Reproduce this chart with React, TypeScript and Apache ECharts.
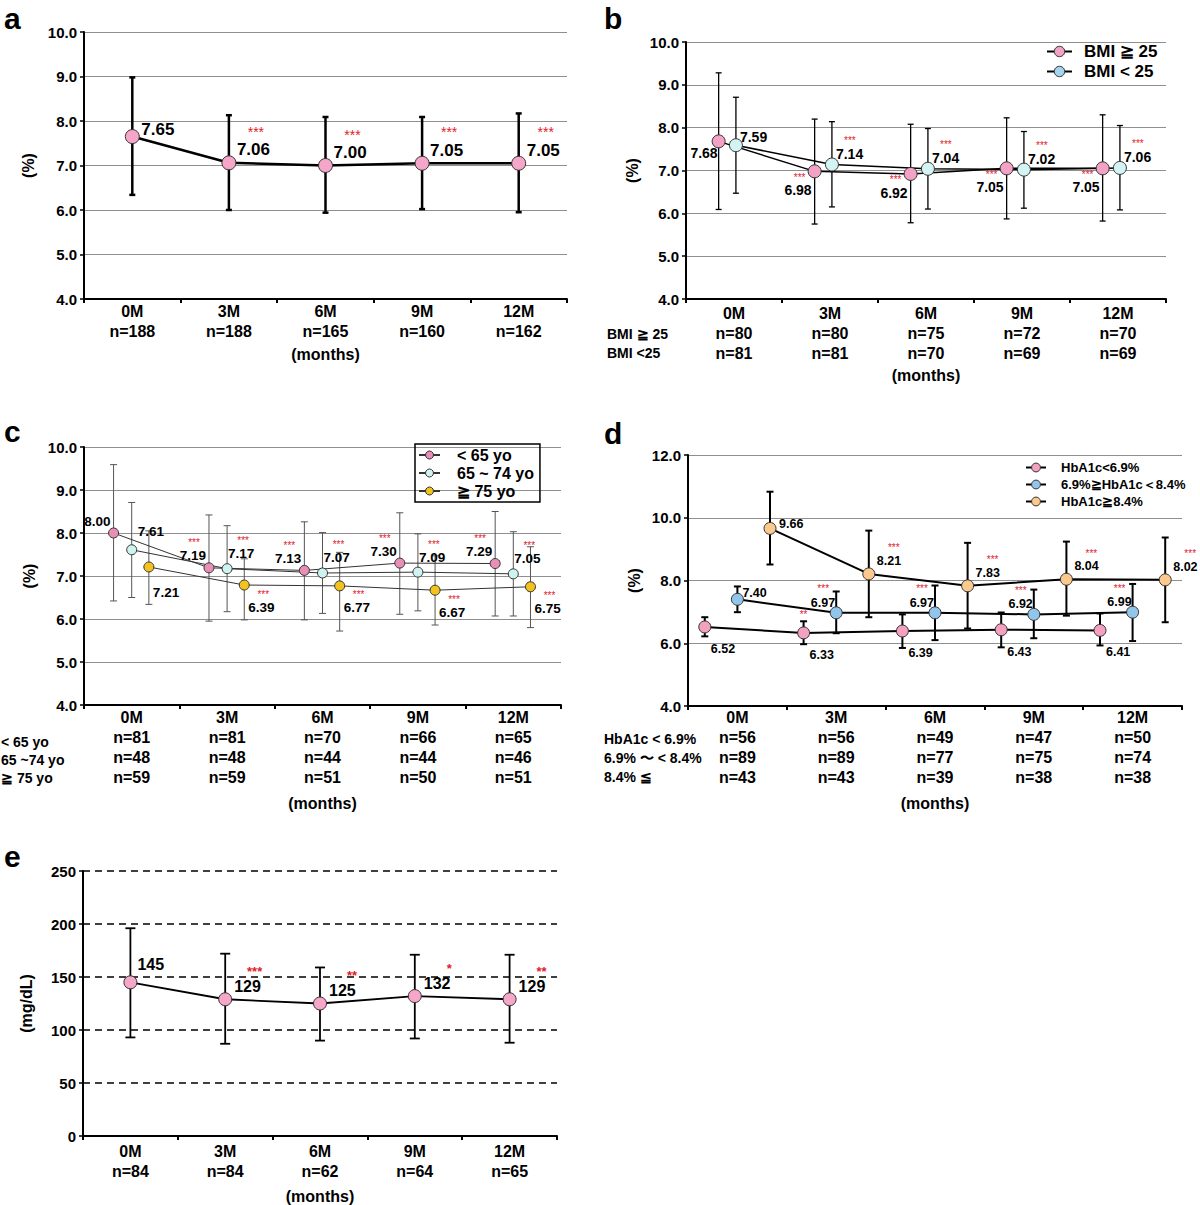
import React, { useEffect, useRef } from 'react';
import * as echarts from 'echarts';

const FONT = '"Liberation Sans", Arial, Helvetica, sans-serif';
const months = ['0M', '3M', '6M', '9M', '12M'];

// ---- panel a : HbA1c all patients ----
const aN = [188, 188, 165, 160, 162];
const aMean = [7.65, 7.06, 7.0, 7.05, 7.05];
const aLow = [6.34, 6.0, 5.94, 6.02, 5.95];
const aHigh = [8.98, 8.13, 8.09, 8.09, 8.17];
const aStars = ['', '***', '***', '***', '***'];

// ---- panel b : by BMI ----
const bNames = ['BMI ≧ 25', 'BMI < 25'];
const bRowLabels = ['BMI ≧ 25', 'BMI <25'];
const bN1 = [80, 80, 75, 72, 70];
const bN2 = [81, 81, 70, 69, 69];
const b1Mean = [7.68, 6.98, 6.92, 7.05, 7.05];
const b1Low = [6.09, 5.75, 5.78, 5.87, 5.82];
const b1High = [9.28, 8.2, 8.08, 8.23, 8.3];
const b2Mean = [7.59, 7.14, 7.04, 7.02, 7.06];
const b2Low = [6.47, 6.15, 6.1, 6.12, 6.08];
const b2High = [8.71, 8.14, 7.98, 7.91, 8.05];
const bStars = ['', '***', '***', '***', '***'];

// ---- panel c : by age ----
const cNames = ['< 65 yo', '65 ~ 74 yo', '≧ 75 yo'];
const cRowLabels = ['< 65 yo', '65 ~74 yo', '≧ 75 yo'];
const cN1 = [81, 81, 70, 66, 65];
const cN2 = [48, 48, 44, 44, 46];
const cN3 = [59, 59, 51, 50, 51];
const c1Mean = [8.0, 7.19, 7.13, 7.3, 7.29];
const c1Low = [6.42, 5.95, 5.98, 6.11, 6.07];
const c1High = [9.59, 8.42, 8.26, 8.47, 8.5];
const c2Mean = [7.61, 7.17, 7.07, 7.09, 7.05];
const c2Low = [6.5, 6.17, 6.13, 6.19, 6.07];
const c2High = [8.71, 8.17, 8.01, 7.98, 8.03];
const c3Mean = [7.21, 6.79, 6.77, 6.67, 6.75];
const c3Text = ['7.21', '6.39', '6.77', '6.67', '6.75'];
const c3Low = [6.34, 5.98, 5.72, 5.86, 5.8];
const c3High = [8.05, 7.4, 7.55, 7.47, 7.68];
const cStars = ['', '***', '***', '***', '***'];

// ---- panel d : by baseline HbA1c ----
const dNames = ['HbA1c<6.9%', '6.9%≧HbA1c＜8.4%', 'HbA1c≧8.4%'];
const dRowLabels = ['HbA1c < 6.9%', '6.9% 〜 < 8.4%', '8.4% ≦'];
const dN1 = [56, 56, 49, 47, 50];
const dN2 = [89, 89, 77, 75, 74];
const dN3 = [43, 43, 39, 38, 38];
const d1Mean = [6.52, 6.33, 6.39, 6.43, 6.41];
const d1Low = [6.22, 5.97, 5.85, 5.87, 5.93];
const d1High = [6.83, 6.7, 6.92, 6.98, 6.95];
const d1Stars = ['', '**', '', '', ''];
const d2Mean = [7.4, 6.97, 6.97, 6.92, 6.99];
const d2Low = [6.99, 6.32, 6.1, 6.16, 6.07];
const d2High = [7.81, 7.65, 7.84, 7.71, 7.89];
const d3Mean = [9.66, 8.21, 7.83, 8.04, 8.02];
const d3Low = [8.51, 6.83, 6.47, 6.88, 6.67];
const d3High = [10.83, 9.59, 9.2, 9.24, 9.37];
const dStars = ['', '***', '***', '***', '***'];

// ---- panel e : fasting glucose ----
const eN = [84, 84, 62, 64, 65];
const eMean = [145, 129, 125, 132, 129];
const eLow = [93, 87, 90, 92, 88];
const eHigh = [196, 172, 159, 171, 171];
const eStars = ['', '***', '**', '*', '**'];

const f2 = (v: number) => v.toFixed(2);
const f0 = (v: number) => String(v);

const PINK = '#f5a6c9';

const panels: any[] = [
  {
    letter: 'a', letterPos: [4, 18],
    grid: { left: 84, top: 32, width: 483, height: 267 },
    y: { min: 4, max: 10, step: 1, dec: 1, name: '(%)', gap: 48, dashed: false },
    xLabels: months.map((m, i) => `${m}\nn=${aN[i]}`),
    xMargin: 2, xNameGap: 47,
    rows: [],
    st: { sym: 14, lineW: 2.5, lineColor: '#000', barW: 2.5, barColor: '#000', cap: 3, lf: 17, sf: 14, sw: 'normal', border: '#333' },
    groups: [
      { name: 'a HbA1c', mean: aMean, low: aLow, high: aHigh, text: aMean.map(f2), stars: aStars, dodge: 0, fill: PINK,
        label: { dx: 8, dy: -13, align: 'left' }, first: { dx: 9, dy: -7, align: 'left' }, star: { dx: 27, dy: -31, align: 'center' } },
    ],
  },
  {
    letter: 'b', letterPos: [604, 18],
    grid: { left: 686, top: 42, width: 480, height: 257 },
    y: { min: 4, max: 10, step: 1, dec: 1, name: '(%)', gap: 46, dashed: false },
    xLabels: months.map((m, i) => `${m}\nn=${bN1[i]}\nn=${bN2[i]}`),
    xMargin: 4, xNameGap: 68,
    rows: [{ text: bRowLabels[0], x: 607, y: 334 }, { text: bRowLabels[1], x: 607, y: 353 }], rowFont: 14,
    st: { sym: 13, lineW: 1.5, lineColor: '#000', barW: 1.3, barColor: '#000', cap: 3, lf: 14, sf: 10, sw: 'normal', border: '#333' },
    groups: [
      { name: bNames[0], mean: b1Mean, low: b1Low, high: b1High, text: b1Mean.map(f2), stars: bStars, dodge: -0.16, fill: '#f3a2c6',
        label: { dx: -3, dy: 19, align: 'right' }, first: { dx: -1, dy: 12, align: 'right' }, star: { dx: -15, dy: 6, align: 'center' } },
      { name: bNames[1], mean: b2Mean, low: b2Low, high: b2High, text: b2Mean.map(f2), stars: bStars, dodge: 0.02, fill: '#d4f4f4',
        label: { dx: 4, dy: -11, align: 'left' }, first: { dx: 4, dy: -8, align: 'left' }, star: { dx: 18, dy: -24, align: 'center' } },
    ],
    legend: { left: 1041, top: 38, itemWidth: 25, itemHeight: 13, itemGap: 3, fontSize: 17, textPad: 7, colors: ['#f3a2c6', '#a3d4f0'], names: bNames },
  },
  {
    letter: 'c', letterPos: [4, 431],
    grid: { left: 84, top: 447, width: 477, height: 258 },
    y: { min: 4, max: 10, step: 1, dec: 1, name: '(%)', gap: 47, dashed: false },
    xLabels: months.map((m, i) => `${m}\nn=${cN1[i]}\nn=${cN2[i]}\nn=${cN3[i]}`),
    xMargin: 2, xNameGap: 90,
    rows: [{ text: cRowLabels[0], x: 1, y: 742 }, { text: cRowLabels[1], x: 1, y: 760 }, { text: cRowLabels[2], x: 1, y: 778 }], rowFont: 14,
    st: { sym: 10, lineW: 1, lineColor: '#333', barW: 1, barColor: '#555', cap: 3.5, lf: 13.5, sf: 10, sw: 'normal', border: '#333' },
    groups: [
      { name: cNames[0], mean: c1Mean, low: c1Low, high: c1High, text: c1Mean.map(f2), stars: cStars, dodge: -0.19, fill: '#e98fb6',
        label: { dx: -3, dy: -12, align: 'right' }, star: { dx: -15, dy: -25, align: 'center' } },
      { name: cNames[1], mean: c2Mean, low: c2Low, high: c2High, text: c2Mean.map(f2), stars: cStars, dodge: 0, fill: '#cff3ef',
        label: { dx: 1, dy: -15, align: 'left' }, first: { dx: 6, dy: -18, align: 'left' }, star: { dx: 16, dy: -28, align: 'center' } },
      { name: cNames[2], mean: c3Mean, low: c3Low, high: c3High, text: c3Text, stars: cStars, dodge: 0.18, fill: '#f4c21c',
        label: { dx: 4, dy: 22, align: 'left' }, first: { dx: 4, dy: 26, align: 'left' }, star: { dx: 19, dy: 9, align: 'center' } },
    ],
    legend: { left: 415, top: 444, border: true, itemWidth: 21, itemHeight: 10, itemGap: 2, fontSize: 16, textPad: 12, colors: ['#e98fb6', '#cff3ef', '#f4c21c'], names: cNames },
  },
  {
    letter: 'd', letterPos: [604, 433],
    grid: { left: 688, top: 455, width: 494, height: 251 },
    y: { min: 4, max: 12, step: 2, dec: 1, name: '(%)', gap: 46, dashed: false },
    xLabels: months.map((m, i) => `${m}\nn=${dN1[i]}\nn=${dN2[i]}\nn=${dN3[i]}`),
    xMargin: 1, xNameGap: 89,
    rows: [{ text: dRowLabels[0], x: 604, y: 739 }, { text: dRowLabels[1], x: 604, y: 758 }, { text: dRowLabels[2], x: 604, y: 777 }], rowFont: 14,
    st: { sym: 12, lineW: 2, lineColor: '#000', barW: 2, barColor: '#000', cap: 3.5, lf: 12.5, sf: 10, sw: 'normal', border: '#333' },
    groups: [
      { name: dNames[0], mean: d1Mean, low: d1Low, high: d1High, text: d1Mean.map(f2), stars: d1Stars, dodge: -0.33, fill: '#f4a0c0',
        label: { dx: 6, dy: 22, align: 'left' }, star: { dx: 0, dy: -18, align: 'center' } },
      { name: dNames[1], mean: d2Mean, low: d2Low, high: d2High, text: d2Mean.map(f2), stars: dStars, dodge: 0, fill: '#92c5ec',
        label: { dx: -1, dy: -10, align: 'right' }, first: { dx: 5, dy: -6, align: 'left' }, star: { dx: -13, dy: -24, align: 'center' } },
      { name: dNames[2], mean: d3Mean, low: d3Low, high: d3High, text: d3Mean.map(f2), stars: dStars, dodge: 0.33, fill: '#fbc98e',
        label: { dx: 8, dy: -13, align: 'left' }, first: { dx: 9, dy: -4, align: 'left' }, star: { dx: 25, dy: -26, align: 'center' } },
    ],
    legend: { left: 1020, top: 456, itemWidth: 20, itemHeight: 11, itemGap: 4, fontSize: 13, textPad: 10, colors: ['#f4a0c0', '#92c5ec', '#fbc98e'], names: dNames },
  },
  {
    letter: 'e', letterPos: [4, 856],
    grid: { left: 83, top: 871, width: 474, height: 266 },
    y: { min: 0, max: 250, step: 50, dec: 0, name: '(mg/dL)', gap: 49, dashed: true },
    xLabels: months.map((m, i) => `${m}\nn=${eN[i]}`),
    xMargin: 5, xNameGap: 52,
    rows: [],
    st: { sym: 13, lineW: 1.8, lineColor: '#000', barW: 1.8, barColor: '#000', cap: 5, lf: 16, sf: 13, sw: 'bold', border: '#333' },
    groups: [
      { name: 'e FPG', mean: eMean, low: eLow, high: eHigh, text: eMean.map(f0), stars: eStars, dodge: 0, fill: PINK,
        label: { dx: 9, dy: -13, align: 'left' }, first: { dx: 7, dy: -18, align: 'left' }, star: { dx: 37, dy: -28, align: 'right' } },
    ],
  },
];

function buildOption() {
  const grid: any[] = [];
  const xAxis: any[] = [];
  const yAxis: any[] = [];
  const series: any[] = [];
  const legend: any[] = [];
  const graphic: any[] = [];
  const boldText = { color: '#000', fontWeight: 'bold', fontFamily: FONT };

  panels.forEach((p, pi) => {
    grid.push({ ...p.grid, containLabel: false });
    const xi = xAxis.length;
    xAxis.push({
      type: 'category', gridIndex: pi, data: p.xLabels, boundaryGap: true, position: 'bottom',
      axisLine: { show: true, onZero: false, lineStyle: { color: '#000', width: 2 } },
      axisTick: { show: true, length: 4, lineStyle: { color: '#000', width: 2 } },
      axisLabel: { ...boldText, fontSize: 16, lineHeight: 20, margin: p.xMargin, interval: 0 },
      splitLine: { show: false },
      name: '(months)', nameLocation: 'middle', nameGap: p.xNameGap,
      nameTextStyle: { ...boldText, fontSize: 16 },
    });
    xAxis.push({
      type: 'value', gridIndex: pi, min: -0.5, max: 4.5, show: false, position: 'bottom',
      axisLine: { show: false, onZero: false }, splitLine: { show: false },
    });
    yAxis.push({
      type: 'value', gridIndex: pi, min: p.y.min, max: p.y.max, interval: p.y.step, position: 'left',
      axisLine: { show: true, onZero: false, lineStyle: { color: '#000', width: 2 } },
      axisTick: { show: true, length: 4, lineStyle: { color: '#000', width: 1.5 } },
      axisLabel: { ...boldText, fontSize: 15, margin: 7, formatter: (v: number) => v.toFixed(p.y.dec) },
      splitLine: p.y.dashed
        ? { show: true, lineStyle: { color: '#000', width: 1.5, type: [7, 5] } }
        : { show: true, lineStyle: { color: '#8f8f8f', width: 1 } },
      name: p.y.name, nameLocation: 'middle', nameGap: p.y.gap,
      nameTextStyle: { ...boldText, fontSize: 16 },
    });

    const st = p.st;
    p.groups.forEach((g: any) => {
      const pts = g.mean.map((v: number, i: number) => [i + g.dodge, v]);
      // error bars
      series.push({
        type: 'custom', name: g.name + ' SD', xAxisIndex: xi + 1, yAxisIndex: pi, z: 2, silent: true, clip: false,
        data: g.mean.map((v: number, i: number) => [i + g.dodge, g.low[i], g.high[i]]),
        encode: { x: 0, y: [1, 2] },
        renderItem: (params: any, api: any) => {
          const x = api.value(0);
          const lo = api.coord([x, api.value(1)]);
          const hi = api.coord([x, api.value(2)]);
          const s = { stroke: st.barColor, lineWidth: st.barW };
          return {
            type: 'group',
            children: [
              { type: 'line', shape: { x1: lo[0], y1: lo[1], x2: hi[0], y2: hi[1] }, style: s },
              { type: 'line', shape: { x1: hi[0] - st.cap, y1: hi[1], x2: hi[0] + st.cap, y2: hi[1] }, style: s },
              { type: 'line', shape: { x1: lo[0] - st.cap, y1: lo[1], x2: lo[0] + st.cap, y2: lo[1] }, style: s },
            ],
          };
        },
      });
      // mean line with markers
      series.push({
        type: 'line', name: g.name, xAxisIndex: xi + 1, yAxisIndex: pi, z: 3, data: pts,
        symbol: 'circle', symbolSize: st.sym, showSymbol: true,
        itemStyle: { color: g.fill, borderColor: st.border, borderWidth: 1 },
        lineStyle: { color: st.lineColor, width: st.lineW },
        label: { show: false }, emphasis: { disabled: true },
      });
      // value labels and significance stars
      series.push({
        type: 'custom', name: g.name + ' labels', xAxisIndex: xi + 1, yAxisIndex: pi, z: 5, silent: true, clip: false,
        data: pts, encode: { x: 0, y: 1 },
        renderItem: (params: any, api: any) => {
          const i = params.dataIndex;
          const c = api.coord([api.value(0), api.value(1)]);
          const lp = i === 0 && g.first ? g.first : g.label;
          const children: any[] = [
            {
              type: 'text', x: c[0] + lp.dx, y: c[1] + lp.dy,
              style: { text: g.text[i], fill: '#000', fontSize: st.lf, fontWeight: 'bold', fontFamily: FONT, align: lp.align, verticalAlign: 'middle' },
            },
          ];
          if (g.stars[i]) {
            children.push({
              type: 'text', x: c[0] + g.star.dx, y: c[1] + g.star.dy,
              style: { text: g.stars[i], fill: '#e0202a', fontSize: st.sf, fontWeight: st.sw, fontFamily: FONT, align: g.star.align, verticalAlign: 'middle' },
            });
          }
          return { type: 'group', children };
        },
      });
    });

    if (p.legend) {
      const L = p.legend;
      legend.push({
        orient: 'vertical', left: L.left, top: L.top, selectedMode: false,
        padding: L.border ? [3, 6, 3, 3] : 5,
        borderColor: L.border ? '#000' : 'transparent', borderWidth: L.border ? 1.5 : 0,
        itemWidth: L.itemWidth, itemHeight: L.itemHeight, itemGap: L.itemGap,
        textStyle: { ...boldText, fontSize: L.fontSize, padding: [0, 0, 0, L.textPad] },
        data: L.names.map((n: string, k: number) => ({ name: n, itemStyle: { color: L.colors[k], borderColor: '#333', borderWidth: 1 } })),
      });
    }

    graphic.push({
      type: 'text', x: p.letterPos[0], y: p.letterPos[1],
      style: { text: p.letter, fill: '#000', fontSize: 30, fontWeight: 'bold', fontFamily: FONT, align: 'left', verticalAlign: 'middle' },
    });
    p.rows.forEach((r: any) => {
      graphic.push({
        type: 'text', x: r.x, y: r.y,
        style: { text: r.text, fill: '#000', fontSize: p.rowFont, fontWeight: 'bold', fontFamily: FONT, align: 'left', verticalAlign: 'middle' },
      });
    });
  });

  return {
    animation: false,
    backgroundColor: '#fff',
    textStyle: { fontFamily: FONT },
    grid, xAxis, yAxis, series, legend, graphic,
  };
}

export default function App() {
  const ref = useRef<HTMLDivElement>(null);
  useEffect(() => {
    document.body.style.margin = '0';
    const chart = echarts.init(ref.current as HTMLDivElement, null, { renderer: 'svg' });
    chart.setOption(buildOption() as any);
    return () => chart.dispose();
  }, []);
  return <div ref={ref} style={{ width: 1200, height: 1205, background: '#fff' }} />;
}
